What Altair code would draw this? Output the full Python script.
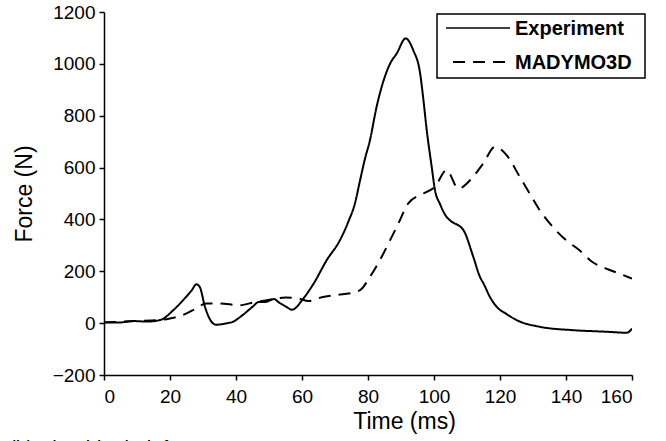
import altair as alt
import pandas as pd

# Experiment (solid)
exp_t = [0, 4, 9, 13, 17, 21, 24, 26.6, 28, 29, 30.6, 32.6, 34, 37, 39, 42, 45, 47, 49,
         51.5, 53, 55, 57, 60.4, 63.4, 67.5, 71.5, 74, 76, 77.6, 79, 80.6, 82.6, 83.6,
         86.7, 88.7, 91.4, 93.7, 95.8, 96.8, 97.8, 99.3, 100.3, 101.8, 103.8, 105, 108.9,
         111.9, 113.9, 115, 117, 119, 122, 125, 132, 142, 152, 158.4, 160]
exp_f = [3, 2, 8, 6, 12, 50, 89, 127, 150, 140, 63, 5, -6, -1, 5, 31, 63, 82, 82,
         93, 80, 65, 52, 95, 150, 243, 320, 390, 460, 551, 630, 706, 834, 886,
         1001, 1040, 1098, 1053, 963, 860, 744, 603, 513, 460, 410, 395, 359,
         256, 179, 153, 100, 63, 35, 12, -14, -27, -33, -37, -21]

# MADYMO3D (dashed)
mad_t = [0, 10, 17, 20, 23, 27, 31, 35, 41, 46, 51, 55, 59, 62, 66, 70, 74, 77.6, 80.6,
         83.6, 86.7, 89.2, 92.2, 96.8, 100.3, 103.8, 107.4, 110.9, 114.9, 118.5, 122,
         126, 129, 132, 136, 140, 144, 148, 152, 156, 160]
mad_f = [3, 8, 12, 18, 27, 50, 76, 76, 69, 82, 91, 99, 95, 85, 100, 108, 114, 127, 179,
         243, 320, 384, 462, 500, 526, 590, 519, 551, 616, 680, 648,
         564, 500, 436, 371, 320, 282, 236, 211, 192, 172]

series_names = ["Experiment", "MADYMO3D"]
x_ticks = [0, 20, 40, 60, 80, 100, 120, 140, 160]
y_ticks = [-200, 0, 200, 400, 600, 800, 1000, 1200]
caption = "(b)  Shoulder belt force"

df = pd.concat([
    pd.DataFrame({"t": exp_t, "f": exp_f, "s": series_names[0], "o": range(len(exp_t))}),
    pd.DataFrame({"t": mad_t, "f": mad_f, "s": series_names[1], "o": range(len(mad_t))}),
])

FONT = "Liberation Sans, Arial"

lines = alt.Chart(df).mark_line(color="black", strokeWidth=2, clip=True,
                                interpolate="monotone").encode(
    x=alt.X("t:Q", scale=alt.Scale(domain=[0, 160], nice=False, zero=False),
            axis=alt.Axis(values=x_ticks, format="d", title="Time (ms)", titleX=300, titleY=46,
                          titleBaseline="middle", labelPadding=7)),
    y=alt.Y("f:Q", scale=alt.Scale(domain=[-200, 1200], nice=False, zero=False),
            axis=alt.Axis(values=y_ticks, format="d", title="Force (N)", titlePadding=16,
                          labelPadding=4)),
    strokeDash=alt.StrokeDash("s:N", scale=alt.Scale(domain=series_names, range=[[1, 0], [12, 8]]),
                              legend=None),
    detail="s:N",
    order="o:Q",
)

# legend box and entries
one = pd.DataFrame({"a": [0]})
box = alt.Chart(one).mark_rect(
    fill="white", stroke="black", strokeWidth=1.5
).encode(x=alt.value(333), x2=alt.value(541), y=alt.value(2), y2=alt.value(66))

sample_solid = alt.Chart(one).mark_rule(
    color="black", strokeWidth=1.5
).encode(x=alt.value(342), x2=alt.value(406), y=alt.value(16))
sample_dash = alt.Chart(one).mark_rule(
    color="black", strokeWidth=2, strokeDash=[12, 8]
).encode(x=alt.value(349), x2=alt.value(406), y=alt.value(50))

leg_text_1 = alt.Chart(pd.DataFrame({"label": [series_names[0]]})).mark_text(
    align="left", baseline="middle", font=FONT, fontSize=20, fontWeight="bold", color="black"
).encode(x=alt.value(411), y=alt.value(17), text="label:N")
leg_text_2 = alt.Chart(pd.DataFrame({"label": [series_names[1]]})).mark_text(
    align="left", baseline="middle", font=FONT, fontSize=20, fontWeight="bold", color="black"
).encode(x=alt.value(411), y=alt.value(51), text="label:N")

cap = alt.Chart(pd.DataFrame({"c": [caption]})).mark_text(
    align="left", baseline="alphabetic", font=FONT, fontSize=20, color="black"
).encode(x=alt.value(-95), y=alt.value(443), text="c:N")

chart = alt.layer(lines, box, sample_solid, sample_dash, leg_text_1, leg_text_2, cap).properties(
    width=528, height=363,
    autosize=alt.AutoSizeParams(type="none"),
    padding={"left": 104, "top": 12, "right": 34, "bottom": 66},
    background="white",
).configure_view(stroke=None).configure_axis(
    grid=False,
    domainColor="black", domainWidth=1.5,
    tickColor="black", tickSize=5, tickWidth=1.5,
    labelFont=FONT, labelFontSize=19, labelColor="black",
    titleFont=FONT, titleFontSize=23, titleFontWeight="normal", titleColor="black",
)

chart.save("out.html", embed_options={"renderer": "svg", "actions": False})
